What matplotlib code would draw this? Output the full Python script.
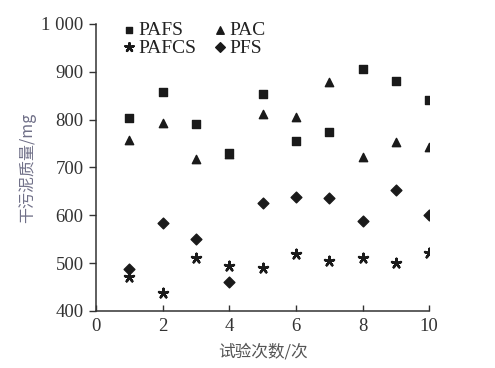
import matplotlib
matplotlib.use("Agg")
import matplotlib.pyplot as plt

runs = [1, 2, 3, 4, 5, 6, 7, 8, 9, 10]
pafs = [803, 858, 790, 730, 853, 755, 775, 906, 880, 840]
pac = [758, 793, 718, 728, 812, 805, 878, 722, 753, 742]
pafcs = [470, 438, 510, 494, 489, 520, 505, 510, 500, 522]
pfs = [487, 584, 551, 461, 625, 638, 636, 588, 653, 600]
yticks = [400, 500, 600, 700, 800, 900, 1000]
ytick_labels = ["400", "500", "600", "700", "800", "900", "1 000"]
xticks = [0, 2, 4, 6, 8, 10]

serif = ["Liberation Serif", "DejaVu Serif"]
cjk = ["Noto Sans CJK SC", "DejaVu Sans"]

fig = plt.figure(figsize=(4.95, 3.68), dpi=100)
ax = fig.add_axes([0.194, 0.155, 0.673, 0.78])

mk = "#1a1a1a"
ax.scatter(runs, pac, marker="^", s=36, color=mk, label="PAC", zorder=3)
ax.scatter(runs, pafs, marker="s", s=30, color=mk, label="PAFS", zorder=4)
ax.scatter(runs, pafcs, marker=(5, 2, 0), s=45, color=mk, linewidths=1.8, label="PAFCS", zorder=3)
ax.scatter(runs, pfs, marker="D", s=30, color=mk, label="PFS", zorder=3)

ax.set_xlim(0, 10)
ax.set_ylim(400, 1000)
ax.set_xticks(xticks)
ax.set_xticklabels([str(t) for t in xticks], fontfamily=serif, fontsize=13.5, color="#333333")
ax.set_yticks(yticks)
ax.set_yticklabels(ytick_labels, fontfamily=serif, fontsize=13.5, color="#333333")
ax.tick_params(axis="x", direction="in", length=4, width=1, color="#333333", pad=5)
ax.tick_params(axis="y", direction="out", length=5, width=1, color="#333333", pad=4)
for s in ["top", "right"]:
    ax.spines[s].set_visible(False)
for s in ["left", "bottom"]:
    ax.spines[s].set_linewidth(1.1)
    ax.spines[s].set_color("#333333")

ax.set_xlabel("试验次数/次", fontfamily=cjk, fontsize=12, color="#555555", labelpad=6)
ax.set_ylabel("干污泥质量/mg", fontfamily=cjk, fontsize=11.5, color="#707088", labelpad=4)

h, l = ax.get_legend_handles_labels()
order = [1, 2, 0, 3]  # PAFS, PAFCS, PAC, PFS -> column-wise
leg = ax.legend([h[i] for i in order], [l[i] for i in order], ncol=2, frameon=False,
                loc="upper left", bbox_to_anchor=(0.01, 1.07), prop={"family": serif, "size": 14},
                handletextpad=-0.1, columnspacing=0.6, labelspacing=0.0, handlelength=1.2,
                markerscale=0.9)
for t in leg.get_texts():
    t.set_color("#222222")

fig.savefig("out.png", dpi=100, facecolor="white")
